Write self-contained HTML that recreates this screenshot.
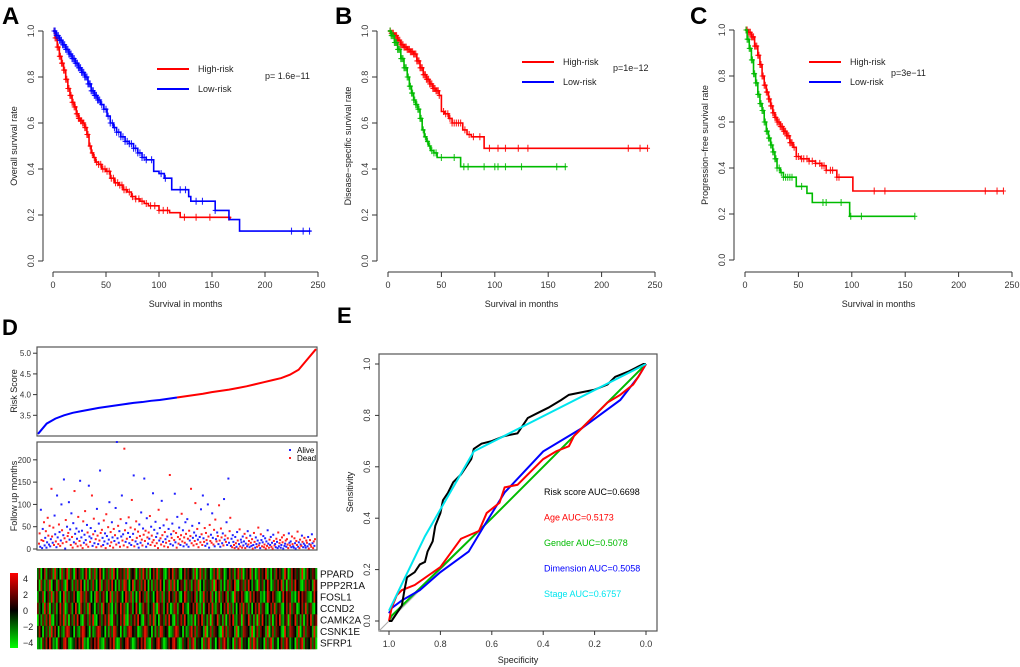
<!DOCTYPE html>
<html><head><meta charset="utf-8">
<style>
html,body{margin:0;padding:0;background:#fff;}
svg{display:block;font-family:"Liberation Sans",Arial,sans-serif;}
</style></head>
<body>
<svg id="fig" width="1020" height="667" viewBox="0 0 1020 667" xmlns="http://www.w3.org/2000/svg"></svg>
<script>
// ---------- DATA ----------
const kmTicksY = [0, 0.2, 0.4, 0.6, 0.8, 1.0];
const kmTicksX = [0, 50, 100, 150, 200, 250];
// Panel A
const aHighT = [0,2,4,6,8,10,12,14,16,18,20,22,24,26,28,30,32,34,36,38,40,43,46,50,54,58,62,66,70,74,78,82,86,90,100,110,120,167];
const aHighS = [1,0.97,0.93,0.89,0.86,0.83,0.79,0.75,0.72,0.69,0.67,0.64,0.62,0.61,0.6,0.58,0.55,0.5,0.47,0.45,0.43,0.42,0.4,0.39,0.36,0.34,0.33,0.31,0.3,0.28,0.27,0.26,0.25,0.24,0.22,0.21,0.19,0.18];
const aHighC = [1,2,3,4,5,6,7,8,9,10,11,12,13,14,15,16,17,18,19,20,21,22,23,24,25,26,27,28,29,30,31,32,33,35,37,39,41,43,45,47,49,51,53,55,57,59,61,63,65,67,69,72,75,78,81,84,88,92,96,100,104,108,124,135,148,166];
const aLowT = [0,3,6,9,12,15,18,21,24,27,30,33,36,39,42,45,48,51,54,57,60,64,68,72,76,80,84,88,95,100,105,112,128,130,153,166,176,243];
const aLowS = [1,0.98,0.96,0.94,0.92,0.9,0.88,0.86,0.84,0.82,0.8,0.77,0.74,0.72,0.7,0.68,0.66,0.63,0.6,0.58,0.56,0.54,0.52,0.51,0.49,0.47,0.45,0.44,0.39,0.38,0.36,0.31,0.28,0.26,0.22,0.18,0.13,0.13];
const aLowC = [1,2,3,4,5,6,7,8,9,10,11,12,13,14,15,16,17,18,19,20,21,22,23,24,25,26,27,28,29,30,31,32,33,34,35,36,37,38,39,40,41,42,43,44,46,48,50,52,54,56,58,60,62,64,66,68,70,72,74,76,78,80,82,84,86,88,93,102,106,120,125,135,141,153,225,236,242];
// Panel B
const bHighT = [0,3,6,9,12,15,18,21,24,27,30,33,36,39,42,45,48,50,53,57,60,65,70,74,78,90,243];
const bHighS = [1,0.99,0.98,0.96,0.94,0.93,0.92,0.91,0.9,0.87,0.84,0.81,0.79,0.77,0.75,0.74,0.72,0.65,0.64,0.62,0.6,0.6,0.57,0.55,0.54,0.49,0.49];
const bHighC = [2,3,4,5,6,7,8,9,10,11,12,13,14,15,16,17,18,19,20,21,22,23,24,25,26,27,28,29,30,31,32,33,34,35,36,37,38,39,40,41,42,43,44,45,46,47,48,52,54,56,58,60,62,64,66,68,72,76,80,86,95,103,110,122,131,225,236,243];
const bLowT = [0,3,6,9,12,15,18,20,22,24,26,28,30,32,34,36,38,40,43,46,50,68,167];
const bLowS = [1,0.98,0.95,0.92,0.88,0.84,0.8,0.76,0.73,0.7,0.68,0.66,0.62,0.57,0.54,0.52,0.5,0.48,0.47,0.45,0.45,0.41,0.41];
const bLowC = [2,3,4,5,6,7,8,9,10,11,12,13,14,15,16,17,18,19,20,21,22,23,24,25,26,27,28,29,30,31,33,35,37,39,41,43,45,50,62,71,75,90,100,103,110,125,158,166];
// Panel C
const cHighT = [0,3,6,9,12,14,16,18,20,22,24,26,28,30,33,36,39,42,45,48,52,56,60,66,72,76,86,101,242];
const cHighS = [1,0.99,0.97,0.93,0.89,0.85,0.8,0.76,0.73,0.7,0.67,0.64,0.62,0.6,0.58,0.56,0.54,0.51,0.49,0.45,0.44,0.44,0.43,0.42,0.41,0.39,0.36,0.3,0.3];
const cHighC = [1,2,3,4,5,6,7,8,9,10,11,12,13,14,15,16,17,18,19,20,21,22,23,24,25,26,27,28,29,30,31,32,33,34,35,36,37,38,39,40,41,42,43,44,46,48,50,53,55,58,60,63,66,70,72,74,76,80,82,86,88,121,131,225,236,242];
const cLowT = [0,2,4,6,8,10,12,14,16,18,20,22,24,26,28,30,33,36,40,48,58,63,98,159];
const cLowS = [1,0.96,0.92,0.87,0.81,0.77,0.72,0.68,0.65,0.6,0.56,0.53,0.5,0.47,0.44,0.4,0.38,0.36,0.36,0.32,0.29,0.25,0.19,0.19];
const cLowC = [1,2,3,4,5,6,7,8,9,10,11,12,13,14,15,16,17,18,19,20,21,22,23,24,25,26,27,28,29,30,32,34,36,38,40,42,44,53,73,76,90,99,109,159];
// Panel D
const riskQ = [3.05,3.3,3.42,3.5,3.56,3.6,3.64,3.68,3.71,3.74,3.77,3.8,3.82,3.85,3.87,3.9,3.93,3.96,3.99,4.02,4.06,4.09,4.12,4.16,4.2,4.25,4.3,4.35,4.4,4.48,4.6,4.85,5.1];
const riskTicks = [3.5,4.0,4.5,5.0];
const fuTimes = [12,35,5,88,20,2,45,18,60,8,25,40,3,15,70,30,10,52,6,22,135,28,14,48,9,75,33,17,4,120,26,11,55,38,7,19,100,42,13,31,156,24,1,65,16,50,29,36,105,21,44,9,80,27,3,58,15,130,34,12,46,23,6,72,39,18,153,8,26,41,2,62,14,32,85,20,10,54,37,5,142,28,16,47,24,120,7,33,68,13,40,22,4,90,30,11,57,19,176,36,6,43,25,9,64,17,35,2,78,29,12,49,21,105,7,38,15,60,26,3,45,18,31,92,10,240,24,52,14,40,5,67,28,120,19,33,8,225,42,16,58,23,4,36,71,13,27,48,9,110,20,34,165,6,44,17,62,25,11,39,3,55,29,14,82,21,8,46,32,158,18,41,5,69,26,12,37,23,74,9,50,30,15,125,20,43,7,61,27,13,35,2,88,19,47,24,10,108,31,16,53,6,38,22,14,66,28,4,45,18,166,11,33,25,57,8,40,20,124,15,36,3,72,27,12,48,22,9,31,79,17,42,6,26,14,60,34,10,67,23,5,41,19,29,135,13,52,25,8,37,18,103,30,11,45,21,4,58,27,15,89,33,9,120,24,16,47,7,36,20,12,100,28,3,54,18,32,14,80,25,10,43,6,66,22,17,37,29,11,98,19,5,46,26,13,35,8,112,21,30,16,60,9,24,158,14,40,70,
  7,23,4,31,16,9,2,27,13,5,38,19,1,11,44,6,21,15,3,28,8,17,34,2,12,25,6,40,10,18,4,30,14,7,22,1,9,36,16,3,26,11,5,19,48,8,13,2,33,20,6,15,29,4,10,24,1,17,7,42,12,3,21,9,27,5,14,1,32,18,8,11,4,23,16,2,37,6,13,20,3,9,26,15,1,31,7,12,19,5,22,10,2,35,14,8,17,4,28,11,6,3,24,13,1,18,9,39,5,15,2,21,10,7,30,16,4,12,25,8,3,19,14,6,27,1,11,20,9,5,33,13,2,17,7,22];
const fuDead = "ddaadaaddaadaaddadaaddaddaadaaaddadaaddaadaddaddaaadaddaadadaaddadadaaddaadadaddaadaadaddaaddadaadadddaadaaddaadaadddaaddadadaadaaddaadadddaaddadaadaddaaddaddadaadaaddadaddaadadaddaddadadaadaddaaddadaaddaddadaddaadaaddaaddaddadadddaaddadaadadadddaadaddaddadaadaddaaddaddaadaddadaaddadadadaddaddaadaa";
const fuTicks = [0,50,100,150,200];
const genes = ["PPARD","PPP2R1A","FOSL1","CCND2","CAMK2A","CSNK1E","SFRP1"];
const heatRows = [
"260471536182407258163074621583062714850362718405637281546037285160473826510374826510473645170382615402738165024736158270364815027364813052746318502746351802743651",
"507316280451736208451627384061527304815627384051628730481562738405162738405617283046517361572804163527084615037264810562738415207361485026374815062738451027364185",
"153704628157304816253740186275304186257304816275304862715038462715304862715384627510486236471502836471503826471520836475102837465120386475210384756120384756210384",
"624183705261483702561483075261843052618437205164837205614830275614382075614830276154832054738216054738216504738261504728361504738265104738256104738265014738256104",
"051627381052473816052738410652738104625738106524738106257384106527381406527384106257384121603748251607348251603748215607348251607384251603748215607348251603748256",
"374052618374052168734052168743051268734051628734051268743501268734051628734501268734051268372654180372654108372654180327654180372645180372654108327654180372654181",
"120637485120643785102364758120364758210634758201634785201364758210634785201364785201634726815340726815304726851340726815340728615340726815304726851340726815347260"];
const cbarTicks = [4,2,0,-2,-4];
// Panel E
const rocTicks = [0,0.2,0.4,0.6,0.8,1.0];
const rocRiskSp = [1,0.99,0.97,0.95,0.94,0.93,0.9,0.88,0.86,0.85,0.83,0.82,0.8,0.79,0.77,0.75,0.72,0.7,0.68,0.67,0.64,0.6,0.55,0.5,0.48,0.46,0.42,0.38,0.33,0.3,0.25,0.2,0.15,0.12,0.07,0.03,0.01,0];
const rocRiskSe = [0,0,0.03,0.06,0.12,0.17,0.19,0.22,0.23,0.27,0.31,0.37,0.42,0.47,0.5,0.54,0.57,0.6,0.63,0.67,0.69,0.7,0.72,0.73,0.76,0.79,0.81,0.83,0.86,0.88,0.89,0.9,0.92,0.95,0.97,0.99,1,1];
const rocAgeSp = [1,0.99,0.97,0.95,0.9,0.8,0.72,0.65,0.62,0.57,0.55,0.5,0.4,0.35,0.3,0.28,0.25,0.2,0.15,0.1,0.05,0.03,0];
const rocAgeSe = [0,0.05,0.1,0.12,0.14,0.21,0.32,0.35,0.42,0.46,0.52,0.53,0.63,0.66,0.68,0.72,0.75,0.8,0.85,0.88,0.92,0.95,1];
const rocGenSp = [1,0.99,0.6,0.3,0];
const rocGenSe = [0,0.02,0.4,0.7,1];
const rocDimSp = [1,0.99,0.95,0.88,0.8,0.69,0.63,0.55,0.4,0.25,0.1,0.03,0];
const rocDimSe = [0.03,0.05,0.08,0.12,0.19,0.27,0.37,0.5,0.66,0.75,0.86,0.95,1];
const rocStageSp = [1,0.86,0.67,0];
const rocStageSe = [0.04,0.33,0.66,1];
const aucLabels = ["Risk score AUC=0.6698","Age AUC=0.5173","Gender AUC=0.5078","Dimension AUC=0.5058","Stage AUC=0.6757"];
const aucColors = ["#000","#ff0000","#00bb00","#0000ff","#00e5ee"];

// ---------- HELPERS ----------
const NS="http://www.w3.org/2000/svg";
const svg=document.getElementById('fig');
function el(tag,attrs,parent,txt){const e=document.createElementNS(NS,tag);for(const k in attrs)e.setAttribute(k,attrs[k]);if(txt!==undefined)e.textContent=txt;(parent||svg).appendChild(e);return e;}
function lin(d0,d1,r0,r1){return v=>r0+(v-d0)*(r1-r0)/(d1-d0);}
function survAt(T,S,t){let s=S[0];for(let i=0;i<T.length;i++){if(T[i]<=t)s=S[i];}return s;}

function kmPanel(o){
  const g=el('g',{});
  
  
  const X=lin(0,250,o.x0,o.x250), Y=lin(0,1,o.y0,o.y1);
  const lbl=el('text',{x:o.lx,y:24,'font-size':24,'font-weight':'bold'},g,o.letter);
  
  const ya=el('g',{},g);
  el('line',{x1:o.ax,x2:o.ax,y1:Y(0),y2:Y(1),stroke:'#333','stroke-width':1},ya);
  kmTicksY.forEach(v=>{el('line',{x1:o.ax-5,x2:o.ax,y1:Y(v),y2:Y(v),stroke:'#333'},ya);
    el('text',{x:0,y:0,'font-size':9,'text-anchor':'middle',fill:'#333',transform:`translate(${o.ax-9},${Y(v)}) rotate(-90)`},ya,v.toFixed(1));});
  const yt=el('text',{x:0,y:0,'font-size':9,'text-anchor':'middle',fill:'#222',transform:`translate(${o.ax-26},${(Y(0)+Y(1))/2}) rotate(-90)`},g,o.ytitle);
  
  const xa=el('g',{},g);
  el('line',{x1:X(0),x2:X(250),y1:272,y2:272,stroke:'#333'},xa);
  kmTicksX.forEach(v=>{el('line',{x1:X(v),x2:X(v),y1:272,y2:277,stroke:'#333'},xa);
    el('text',{x:X(v),y:288,'font-size':9,'text-anchor':'middle',fill:'#333'},xa,String(v));});
  const xt=el('text',{x:(X(0)+X(250))/2,y:307,'font-size':9,'text-anchor':'middle',fill:'#222'},g,'Survival in months');
  
  o.curves.forEach(c=>{
    let d=`M${X(c.T[0])},${Y(c.S[0])}`;
    for(let i=1;i<c.T.length;i++){d+=`H${X(c.T[i])}V${Y(c.S[i])}`;}
    const p=el('path',{d:d,fill:'none',stroke:c.color,'stroke-width':1.6},g);
    
    c.C.forEach(t=>{const x=X(t),y=Y(survAt(c.T,c.S,t));
      el('path',{d:`M${x},${y-3.5}V${y+3.5}M${x-2.5},${y}H${x+2.5}`,stroke:c.color,'stroke-width':1.1,opacity:0.85},g);});
  });
  const lg=el('g',{},g);
  el('line',{x1:o.legx,x2:o.legx+32,y1:o.legy,y2:o.legy,stroke:'#ff0000','stroke-width':2},lg);
  el('text',{x:o.legx+41,y:o.legy+3,'font-size':9,fill:'#222'},lg,'High-risk');
  el('line',{x1:o.legx,x2:o.legx+32,y1:o.legy+20,y2:o.legy+20,stroke:'#0000ff','stroke-width':2},lg);
  el('text',{x:o.legx+41,y:o.legy+23,'font-size':9,fill:'#222'},lg,'Low-risk');
  const pv=el('text',{x:o.px,y:o.py,'font-size':9,fill:'#222'},g,o.p);
  
}
kmPanel({name:'panel-a-overall-survival',letter:'A',lx:2,ax:43,x0:53,x250:318,y0:261,y1:31,ytitle:'Overall survival rate',legx:157,legy:69,px:265,py:79,p:'p= 1.6e−11',
  curves:[{name:'high-risk-curve',T:aHighT,S:aHighS,C:aHighC,color:'#ff0000'},{name:'low-risk-curve',T:aLowT,S:aLowS,C:aLowC,color:'#0000ff'}]});
kmPanel({name:'panel-b-disease-specific-survival',letter:'B',lx:335,ax:377,x0:388,x250:655,y0:261,y1:31,ytitle:'Disease−specific survival rate',legx:522,legy:62,px:613,py:71,p:'p=1e−12',
  curves:[{name:'high-risk-curve',T:bHighT,S:bHighS,C:bHighC,color:'#ff0000'},{name:'low-risk-curve',T:bLowT,S:bLowS,C:bLowC,color:'#00bb00'}]});
kmPanel({name:'panel-c-progression-free-survival',letter:'C',lx:690,ax:734,x0:745,x250:1012,y0:260,y1:30,ytitle:'Progression−free survival rate',legx:809,legy:62,px:891,py:76,p:'p=3e−11',
  curves:[{name:'high-risk-curve',T:cHighT,S:cHighS,C:cHighC,color:'#ff0000'},{name:'low-risk-curve',T:cLowT,S:cLowS,C:cLowC,color:'#00bb00'}]});

// ---------- PANEL D ----------
(function(){
  const g=el('g',{});
  const L=el('text',{x:2,y:335,'font-size':22,'font-weight':'bold'},g,'D');
  const bx0=37,bx1=317;
  const Yr=lin(3.0,5.15,436,347);
  el('rect',{x:bx0,y:347,width:bx1-bx0,height:89,fill:'none',stroke:'#555','stroke-width':1.2},g);
  riskTicks.forEach(v=>{el('line',{x1:bx0-4,x2:bx0,y1:Yr(v),y2:Yr(v),stroke:'#333'},g);
    el('text',{x:bx0-6,y:Yr(v)+3,'font-size':8,'text-anchor':'end',fill:'#333'},g,v.toFixed(1));});
  const rt=el('text',{x:0,y:0,'font-size':9,'text-anchor':'middle',transform:'translate(17,391) rotate(-90)',fill:'#222'},g,'Risk Score');
  
  const Xq=lin(0,riskQ.length-1,bx0+1,bx1-1);
  const mid=Math.floor((riskQ.length-1)/2);
  let d1='',d2='';
  riskQ.forEach((v,i)=>{const pt=`${Xq(i)},${Yr(v)}`;if(i<=mid)d1+=(i?'L':'M')+pt;if(i>=mid)d2+=(i>mid?'L':'M')+pt;});
  const p1=el('path',{d:d1,fill:'none',stroke:'#0000ff','stroke-width':2},g);
  const p2=el('path',{d:d2,fill:'none',stroke:'#ff0000','stroke-width':2},g);
  const Yf=lin(0,240,549,442);
  el('rect',{x:bx0,y:442,width:bx1-bx0,height:108,fill:'none',stroke:'#555','stroke-width':1.2},g);
  fuTicks.forEach(v=>{el('line',{x1:bx0-4,x2:bx0,y1:Yf(v),y2:Yf(v),stroke:'#333'},g);
    el('text',{x:bx0-6,y:Yf(v)+3,'font-size':8,'text-anchor':'end',fill:'#333'},g,String(v));});
  const ft=el('text',{x:0,y:0,'font-size':9,'text-anchor':'middle',transform:'translate(17,496) rotate(-90)',fill:'#222'},g,'Follow up months');
  
  const Xf=lin(0,fuTimes.length-1,bx0+2,bx1-2);
  fuTimes.forEach((t,i)=>{const c=el('rect',{x:Xf(i)-1,y:Yf(t)-1,width:2,height:2,fill:fuDead[i%fuDead.length]==='d'?'#ff2020':'#2020ff'},g);
    });
  const lg=el('g',{},g);
  el('rect',{x:289,y:449,width:2,height:2,fill:'#2020ff'},lg);el('text',{x:297,y:453,'font-size':8},lg,'Alive');
  el('rect',{x:289,y:457,width:2,height:2,fill:'#ff2020'},lg);el('text',{x:297,y:461,'font-size':8},lg,'Dead');
  const hx0=37,hx1=317,hy0=568,hy1=649,rh=(hy1-hy0)/heatRows.length;
  function col(v){v=v-4;const t=Math.abs(v)/4;if(v>=0)return `rgb(${Math.round(230*t)},${Math.round(20*t)},0)`;return `rgb(0,${Math.round(230*t)},0)`;}
  heatRows.forEach((r,ri)=>{const cw=(hx1-hx0)/r.length;
    for(let j=0;j<r.length;j++){const c=el('rect',{x:hx0+j*cw,y:hy0+ri*rh,width:cw+0.3,height:rh+0.3,fill:col(+r[j])},g);
      }
    const t=el('text',{x:320,y:hy0+ri*rh+rh/2+3.5,'font-size':10,fill:'#111'},g,genes[ri]);
    });
  const defs=el('defs',{});const lgd=el('linearGradient',{id:'cb',x1:0,y1:0,x2:0,y2:1},defs);
  [['0','#ff0000'],['0.5','#000'],['1','#00ff00']].forEach(s=>el('stop',{offset:s[0],'stop-color':s[1]},lgd));
  const cb=el('rect',{x:10,y:573,width:8,height:75,fill:'url(#cb)'},g);
  const Yc=lin(4,-4,579,643);
  cbarTicks.forEach(v=>el('text',{x:23,y:Yc(v)+3,'font-size':9,fill:'#222'},g,v<0?'−'+Math.abs(v):String(v)));
})();

// ---------- PANEL E ----------
(function(){
  const g=el('g',{});
  const L=el('text',{x:337,y:323,'font-size':22,'font-weight':'bold'},g,'E');
  const X=lin(1,0,389,646),Y=lin(0,1,621,364);
  el('rect',{x:379,y:354,width:278,height:277,fill:'none',stroke:'#555','stroke-width':1.2},g);
  el('line',{x1:X(1.04),y1:Y(-0.04),x2:X(0),y2:Y(1),stroke:'#aaa','stroke-width':1},g);
  rocTicks.forEach(v=>{el('line',{x1:X(v),x2:X(v),y1:631,y2:635,stroke:'#333'},g);
    el('text',{x:X(v),y:647,'font-size':9,'text-anchor':'middle',fill:'#333'},g,v.toFixed(1));
    el('line',{x1:375,x2:379,y1:Y(v),y2:Y(v),stroke:'#333'},g);
    el('text',{x:0,y:0,'font-size':9,'text-anchor':'middle',fill:'#333',transform:`translate(370,${Y(v)}) rotate(-90)`},g,v.toFixed(1));});
  const xt=el('text',{x:518,y:663,'font-size':9,'text-anchor':'middle',fill:'#222'},g,'Specificity');
  const yt=el('text',{x:0,y:0,'font-size':9,'text-anchor':'middle',fill:'#222',transform:'translate(353,492) rotate(-90)'},g,'Sensitivity');
  const series=[[rocGenSp,rocGenSe,'#00bb00','roc-gender'],[rocDimSp,rocDimSe,'#0000ff','roc-dimension'],[rocAgeSp,rocAgeSe,'#ff0000','roc-age'],[rocRiskSp,rocRiskSe,'#000','roc-risk-score'],[rocStageSp,rocStageSe,'#00e5ee','roc-stage']];
  series.forEach(s=>{let d='';s[0].forEach((sp,i)=>{d+=(i?'L':'M')+X(sp)+','+Y(s[1][i]);});
    const p=el('path',{d:d,fill:'none',stroke:s[2],'stroke-width':2},g);});
  aucLabels.forEach((t,i)=>{const e=el('text',{x:544,y:495+i*25.5,'font-size':9,fill:aucColors[i]},g,t);
    });
})();
</script>
</body></html>
